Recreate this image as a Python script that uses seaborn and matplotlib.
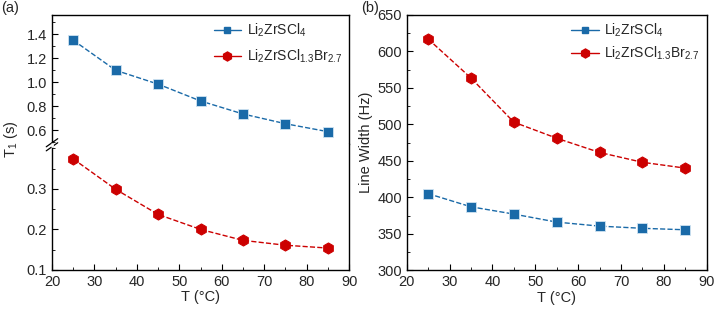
import numpy as np
import pandas as pd
import matplotlib
matplotlib.use("Agg")
import matplotlib.pyplot as plt
from matplotlib.lines import Line2D
from matplotlib.ticker import MultipleLocator
import seaborn as sns

temps = [25, 35, 45, 55, 65, 75, 85]
t1_cl = [1.35, 1.10, 0.985, 0.845, 0.737, 0.656, 0.59]
t1_br = [0.374, 0.299, 0.237, 0.200, 0.173, 0.161, 0.154]
lw_cl = [405, 387, 377, 366, 360.5, 357.5, 355.5]
lw_br = [617, 563.5, 503, 481, 461.5, 448, 440]

lab_cl = r'Li$_2$ZrSCl$_4$'
lab_br = r'Li$_2$ZrSCl$_{1.3}$Br$_{2.7}$'
blue = '#1a6aa8'
red = '#cc0000'

sns.set_style('ticks')
plt.rcParams['font.family'] = ['Liberation Sans', 'DejaVu Sans']
plt.rcParams['mathtext.fontset'] = 'custom'
plt.rcParams['mathtext.rm'] = 'Liberation Sans'
plt.rcParams['mathtext.default'] = 'regular'
plt.rcParams['font.size'] = 10
plt.rcParams['axes.linewidth'] = 1.0
plt.rcParams['axes.edgecolor'] = 'black'

df_t1_cl = pd.DataFrame({'T': temps, 'v': t1_cl})
df_t1_br = pd.DataFrame({'T': temps, 'v': t1_br})
df_lw_cl = pd.DataFrame({'T': temps, 'v': lw_cl})
df_lw_br = pd.DataFrame({'T': temps, 'v': lw_br})

fig = plt.figure(figsize=(7.16, 3.11), dpi=100)
ax_top = fig.add_axes([0.0726, 0.536, 0.415, 0.416])
ax_bot = fig.add_axes([0.0726, 0.132, 0.415, 0.404])
ax_r = fig.add_axes([0.568, 0.131, 0.419, 0.821])

cl_style = dict(color=blue, marker='s', markersize=6.5, markeredgecolor='#cfe3f2',
                markeredgewidth=0.6, linestyle='--', linewidth=1.0, dashes=(5, 3))
br_style = dict(color=red, marker='h', markersize=8, markeredgecolor=red,
                linestyle='--', linewidth=1.0, dashes=(5, 3))

def draw(ax, df, style):
    sns.lineplot(data=df, x='T', y='v', ax=ax, legend=False, **style)

draw(ax_top, df_t1_cl, cl_style)
draw(ax_bot, df_t1_br, br_style)
draw(ax_r, df_lw_cl, cl_style)
draw(ax_r, df_lw_br, br_style)

for ax in (ax_top, ax_bot, ax_r):
    ax.set_xlim(20, 90)
    ax.xaxis.set_major_locator(MultipleLocator(10))
    ax.xaxis.set_minor_locator(MultipleLocator(5))
    ax.tick_params(which='both', direction='in', labelsize=10.5, color='black')
    ax.tick_params(which='major', length=4)
    ax.tick_params(which='minor', length=2.5)
    ax.set_xlabel('')
    ax.set_ylabel('')
    for s in ax.spines.values():
        s.set_visible(True)
        s.set_color('black')

# broken T1 axis
ax_top.set_ylim(0.485, 1.56)
ax_top.yaxis.set_minor_locator(MultipleLocator(0.1))
ax_top.spines['bottom'].set_visible(False)
ax_top.tick_params(axis='x', which='both', bottom=False, labelbottom=False)
ax_top.set_yticks([0.6, 0.8, 1.0, 1.2, 1.4])

ax_bot.set_ylim(0.1, 0.41)
ax_bot.yaxis.set_minor_locator(MultipleLocator(0.05))
ax_bot.spines['top'].set_visible(False)
ax_bot.set_yticks([0.1, 0.2, 0.3])
ax_bot.set_xlabel('T (°C)', fontsize=10.5, labelpad=1)

# break marks on the left spine
for y0 in (0.541, 0.528):
    fig.add_artist(Line2D([0.0726 - 0.008, 0.0726 + 0.008], [y0 - 0.013, y0 + 0.013],
                          color='black', linewidth=0.9, transform=fig.transFigure))
fig.add_artist(Line2D([0.0726, 0.0726], [0.532, 0.538], color='white',
                      linewidth=2, transform=fig.transFigure))

fig.text(0.016, 0.553, r'T$_1$ (s)', rotation=90, ha='center', va='center', fontsize=10.5)

handles = [Line2D([], [], color=blue, marker='s', markersize=5, markeredgecolor=blue,
                  linewidth=1.0, label=lab_cl),
           Line2D([], [], color=red, marker='h', markersize=6.5, markeredgecolor=red,
                  linewidth=1.0, label=lab_br)]
leg_kw = dict(loc='upper right', frameon=False, fontsize=10, handlelength=2.0,
              handletextpad=0.4, borderaxespad=0.1)
ax_top.legend(handles=handles, labelspacing=0.6, **leg_kw)

ax_r.set_ylim(300, 650)
ax_r.yaxis.set_major_locator(MultipleLocator(50))
ax_r.yaxis.set_minor_locator(MultipleLocator(25))
ax_r.set_xlabel('T (°C)', fontsize=10.5, labelpad=1)
ax_r.set_ylabel('Line Width (Hz)', fontsize=10.5, labelpad=3)
ax_r.legend(handles=handles, labelspacing=0.4, **leg_kw)

fig.text(0.002, 0.975, '(a)', fontsize=10.5, ha='left', va='center')
fig.text(0.505, 0.975, '(b)', fontsize=10.5, ha='left', va='center')

fig.savefig('out.png', dpi=100)
